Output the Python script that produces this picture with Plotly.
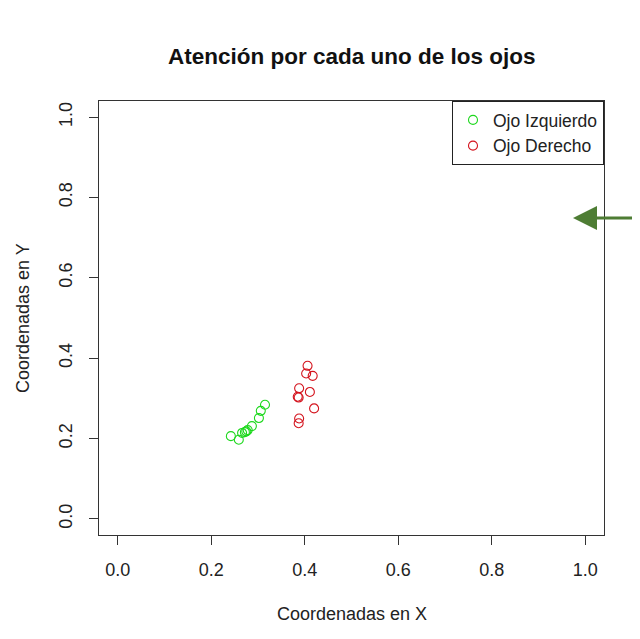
import plotly.graph_objects as go

# ---- data ----
izq_x = [0.242, 0.259, 0.266, 0.272, 0.275, 0.278, 0.287, 0.302, 0.306, 0.315]
izq_y = [0.206, 0.197, 0.214, 0.216, 0.218, 0.221, 0.231, 0.251, 0.269, 0.284]
der_x = [0.406, 0.403, 0.417, 0.388, 0.411, 0.385, 0.387, 0.420, 0.388, 0.387]
der_y = [0.381, 0.362, 0.356, 0.325, 0.316, 0.304, 0.302, 0.275, 0.250, 0.238]
tick_vals = [0.0, 0.2, 0.4, 0.6, 0.8, 1.0]
tick_text = ["0.0", "0.2", "0.4", "0.6", "0.8", "1.0"]

OFF = 8  # browser body margin
W, H = 632, 623
# plot area in page pixels: x 99..604, y 101..535
L = 99 - OFF
T = 101 - OFF
R = W - (604 - OFF)
B = H - (535 - OFF)
PW, PH = W - L - R, H - T - B


def px(x):
    return (x - OFF - L) / PW


def py(y):
    return (H - B - (y - OFF)) / PH


FONT = "Liberation Sans, Arial, sans-serif"

fig = go.Figure()
fig.add_trace(go.Scatter(x=izq_x, y=izq_y, mode="markers", name="Ojo Izquierdo",
                         marker=dict(symbol="circle-open", size=9, color="#1ed81e",
                                     line=dict(width=1.1))))
fig.add_trace(go.Scatter(x=der_x, y=der_y, mode="markers", name="Ojo Derecho",
                         marker=dict(symbol="circle-open", size=9, color="#d4141e",
                                     line=dict(width=1.1))))

axis_common = dict(range=[-0.04, 1.04], tickvals=tick_vals, ticktext=tick_text,
                   showgrid=False, zeroline=False, showline=True, mirror=True,
                   linecolor="#333", linewidth=1, ticks="outside", ticklen=9,
                   tickcolor="#333", tickfont=dict(family=FONT, size=18, color="#222"))

fig.update_xaxes(**axis_common, ticklabelstandoff=9)
fig.update_yaxes(**axis_common, tickangle=-90, ticklabelstandoff=10)

shapes = [
    dict(type="line", xref="paper", yref="paper", x0=px(594), x1=px(645), y0=py(218), y1=py(218),
         line=dict(color="#4e7d34", width=3)),
    dict(type="path", xref="paper", yref="paper",
         path=f"M {px(573)} {py(218)} L {px(597)} {py(206)} L {px(597)} {py(230)} Z",
         fillcolor="#4e7d34", line=dict(width=0)),
]

annotations = [
    dict(text="<b>Atención por cada uno de los ojos</b>", xref="paper", yref="paper",
         x=px(352), y=py(56), showarrow=False, font=dict(family=FONT, size=22.5, color="#111"),
         xanchor="center", yanchor="middle"),
    dict(text="Coordenadas en X", xref="paper", yref="paper", x=px(352), y=py(614),
         showarrow=False, font=dict(family=FONT, size=18, color="#222"),
         xanchor="center", yanchor="middle"),
    dict(text="Coordenadas en Y", xref="paper", yref="paper", x=px(23), y=py(318),
         showarrow=False, textangle=-90, font=dict(family=FONT, size=18, color="#222"),
         xanchor="center", yanchor="middle"),
]

fig.update_layout(
    width=W, height=H, margin=dict(l=L, r=R, t=T, b=B),
    paper_bgcolor="white", plot_bgcolor="white",
    showlegend=True,
    legend=dict(x=1, y=1, xanchor="right", yanchor="top", bgcolor="white",
                bordercolor="#222", borderwidth=1,
                font=dict(family=FONT, size=17.5, color="#222"),
                itemwidth=30, tracegroupgap=0),
    shapes=shapes, annotations=annotations,
)

fig.write_html("out.html")
